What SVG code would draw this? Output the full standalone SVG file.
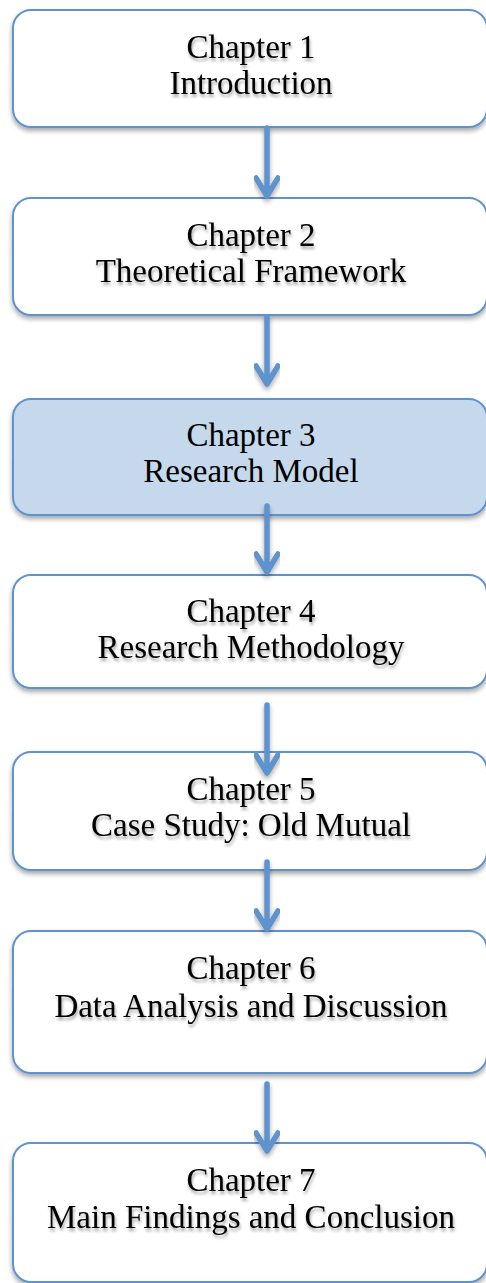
<svg xmlns="http://www.w3.org/2000/svg" width="486" height="1283" viewBox="0 0 486 1283">
<defs>
<filter id="bs" x="-5%" y="-10%" width="110%" height="130%">
<feGaussianBlur in="SourceAlpha" stdDeviation="2.5"/>
<feOffset dx="0" dy="3" result="b"/>
<feComponentTransfer><feFuncA type="linear" slope="0.35"/></feComponentTransfer>
<feMerge><feMergeNode/><feMergeNode in="SourceGraphic"/></feMerge>
</filter>
<filter id="ts" x="-10%" y="-30%" width="120%" height="160%">
<feGaussianBlur in="SourceAlpha" stdDeviation="1.5"/>
<feOffset dx="1" dy="2.5" result="b"/>
<feComponentTransfer><feFuncA type="linear" slope="0.35"/></feComponentTransfer>
<feMerge><feMergeNode/><feMergeNode in="SourceGraphic"/></feMerge>
</filter>
</defs>
<style>
.box{fill:#ffffff;stroke:#5F93CE;stroke-width:2}
.hl{fill:#C5D8EC}
.t{font-family:"Liberation Serif","Times New Roman",serif;font-size:33px;fill:#000;text-anchor:middle}
.ar{fill:none;stroke:#5F93CE;stroke-width:5.5;stroke-linecap:round;stroke-linejoin:round}
</style>
<rect width="486" height="1283" fill="#ffffff"/>
<g id="ch1" filter="url(#bs)"><rect class="box" x="13" y="10" width="474" height="117" rx="18"/></g>
<g id="ch1t" filter="url(#ts)"><text class="t" x="251" y="58">Chapter 1</text><text class="t" x="251" y="94">Introduction</text></g>
<g id="ch2" filter="url(#bs)"><rect class="box" x="13" y="198" width="474" height="117" rx="18"/></g>
<g id="ch2t" filter="url(#ts)"><text class="t" x="251" y="246">Chapter 2</text><text class="t" x="251" y="282">Theoretical Framework</text></g>
<g id="ch3" filter="url(#bs)"><rect class="box hl" x="13" y="399" width="474" height="116" rx="18"/></g>
<g id="ch3t"><text class="t" x="251" y="446">Chapter 3</text><text class="t" x="251" y="482">Research Model</text></g>
<g id="ch4" filter="url(#bs)"><rect class="box" x="13" y="575" width="474" height="113" rx="18"/></g>
<g id="ch4t" filter="url(#ts)"><text class="t" x="251" y="622">Chapter 4</text><text class="t" x="251" y="658">Research Methodology</text></g>
<g id="ch5" filter="url(#bs)"><rect class="box" x="13" y="752" width="474" height="118" rx="18"/></g>
<g id="ch5t" filter="url(#ts)"><text class="t" x="251" y="800">Chapter 5</text><text class="t" x="251" y="836">Case Study: Old Mutual</text></g>
<g id="ch6" filter="url(#bs)"><rect class="box" x="13" y="931" width="474" height="142" rx="18"/></g>
<g id="ch6t" filter="url(#ts)"><text class="t" x="251" y="979">Chapter 6</text><text class="t" x="251" y="1017">Data Analysis and Discussion</text></g>
<g id="ch7" filter="url(#bs)"><rect class="box" x="13" y="1143" width="474" height="139" rx="18"/></g>
<g id="ch7t" filter="url(#ts)"><text class="t" x="251" y="1191">Chapter 7</text><text class="t" x="251" y="1228">Main Findings and Conclusion</text></g>
<g id="connectors" filter="url(#bs)">
<path class="ar" d="M267 128V196M256 178L267 196L278 178"/>
<path class="ar" d="M267 317V384M256 366L267 384L278 366"/>
<path class="ar" d="M267 506V572M256 554L267 572L278 554"/>
<path class="ar" d="M267 705V773M256 755L267 773L278 755"/>
<path class="ar" d="M267 862V929M256 911L267 929L278 911"/>
<path class="ar" d="M267 1084V1151M256 1133L267 1151L278 1133"/>
</g>
</svg>
